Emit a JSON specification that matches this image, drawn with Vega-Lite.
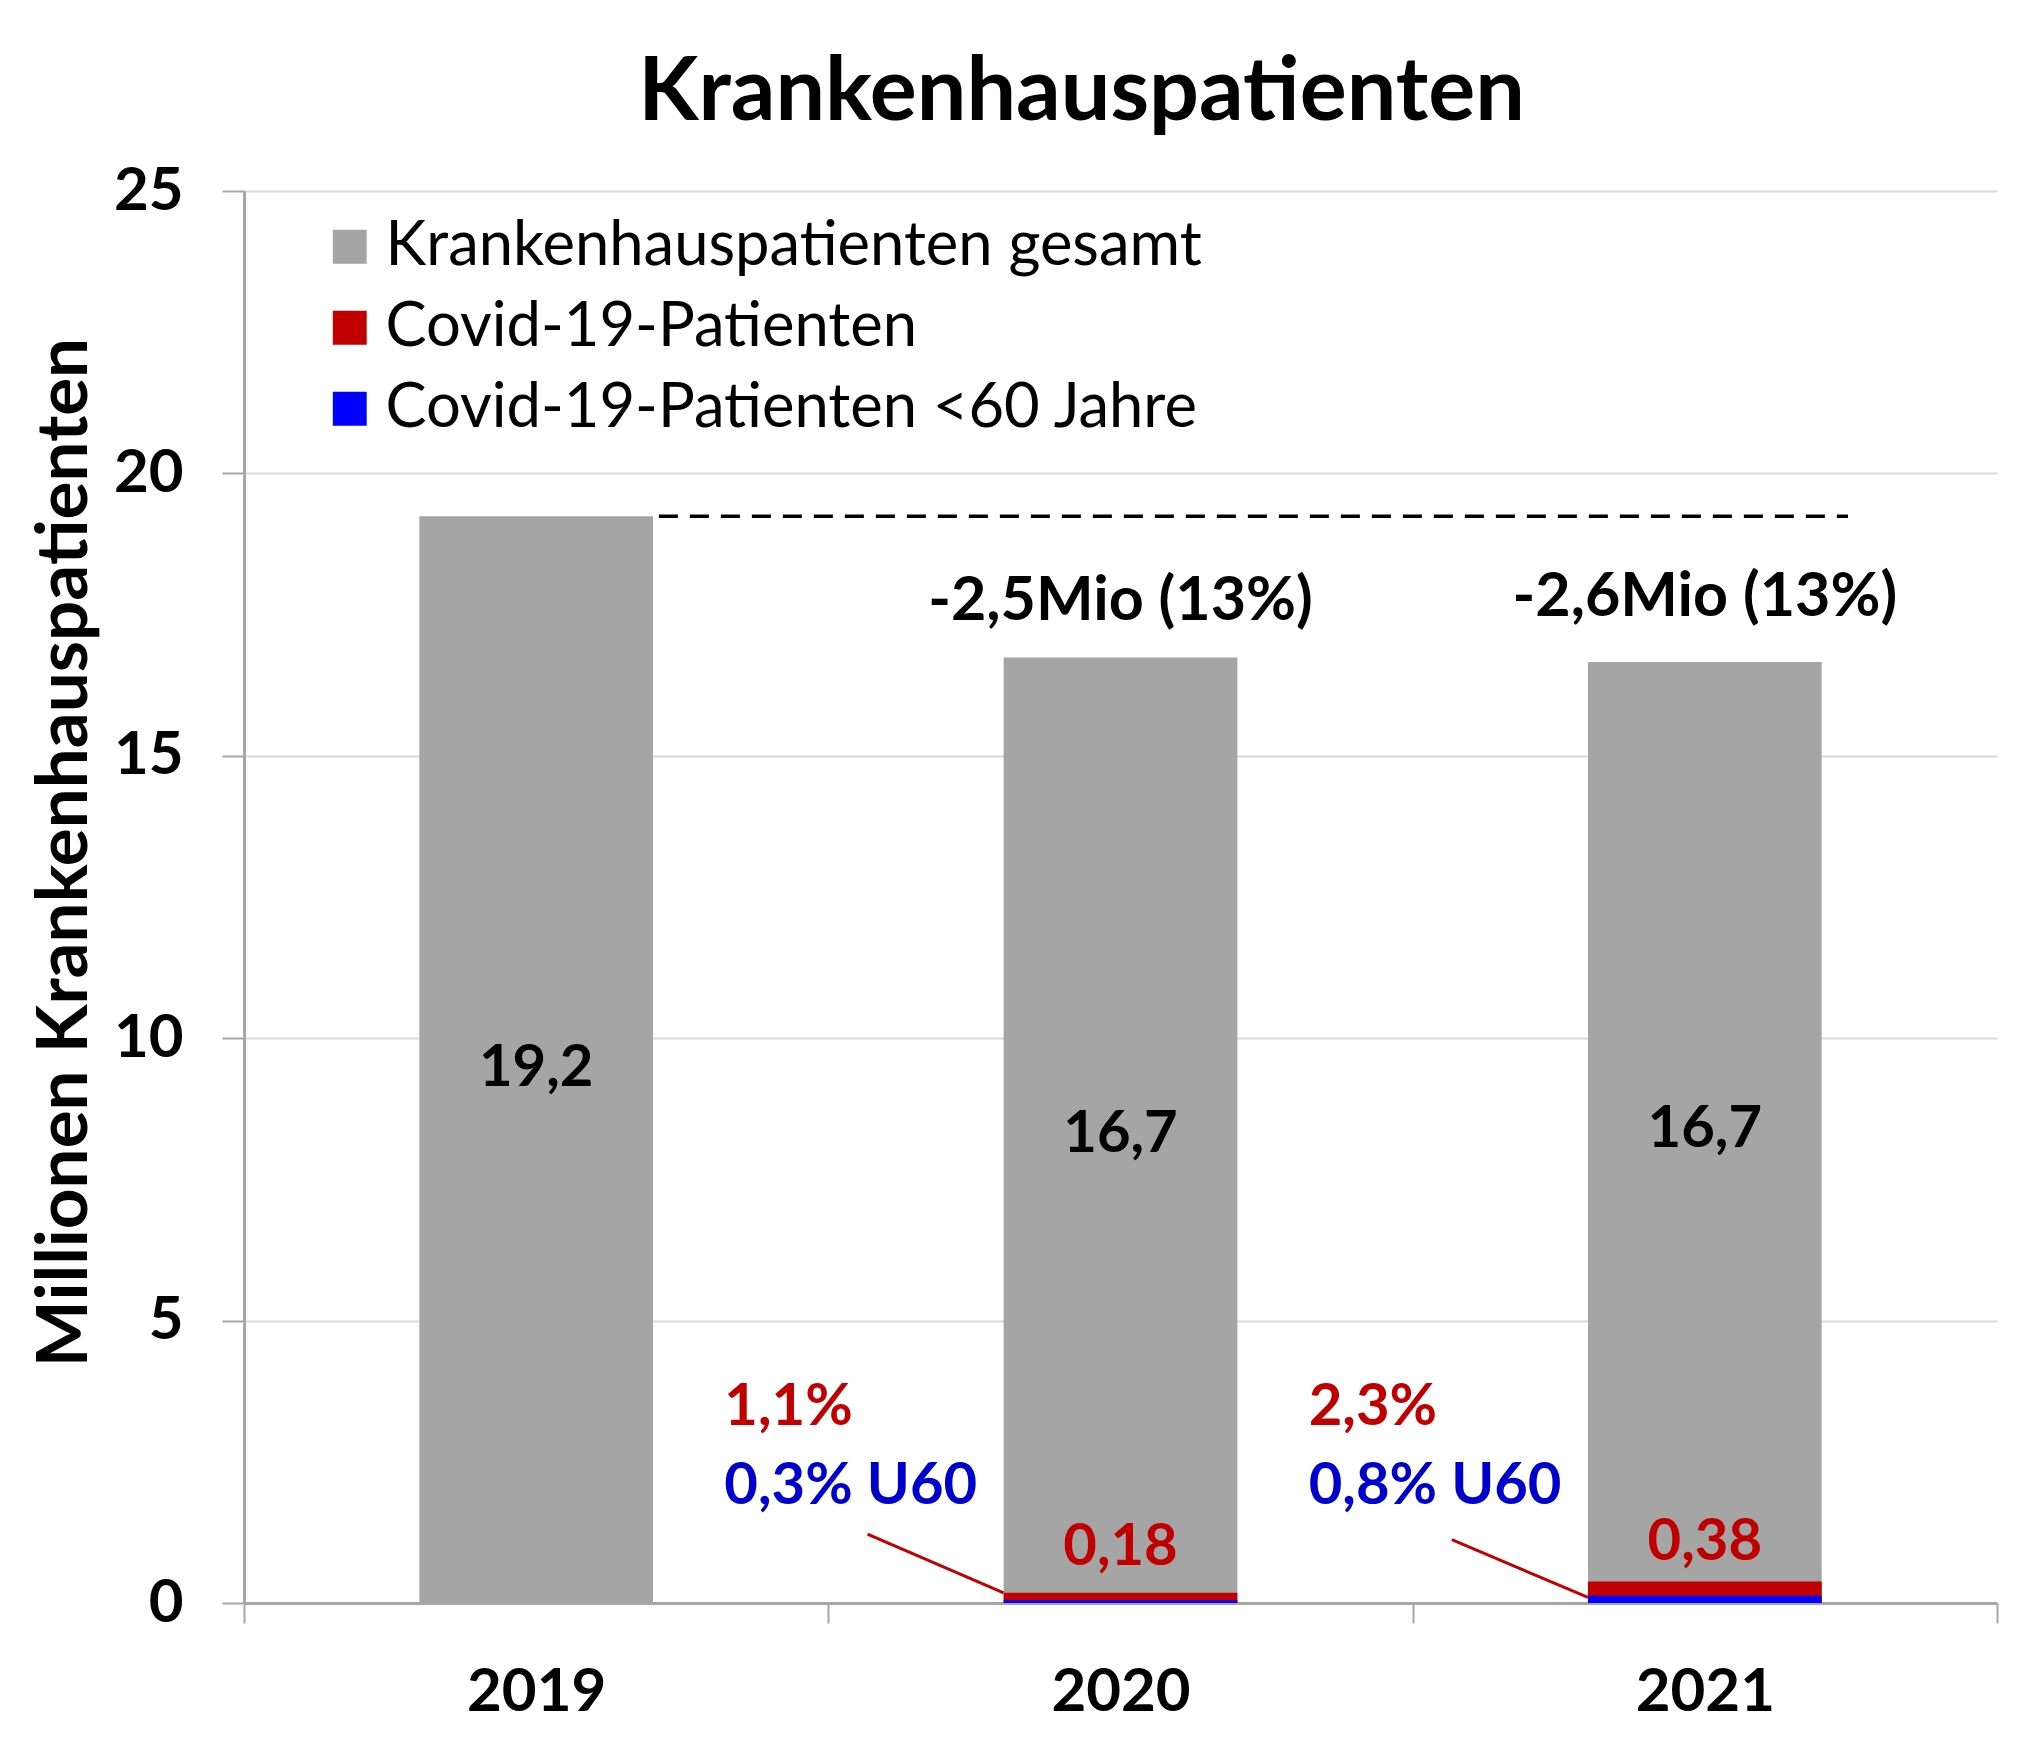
{
  "$schema": "https://vega.github.io/schema/vega-lite/v6.json",
  "autosize": {"type": "none"},
  "width": 1753,
  "height": 1412,
  "padding": {"left": 244, "top": 191, "right": 28, "bottom": 140},
  "background": "white",
  "config": {
    "font": "Lato",
    "view": {"stroke": null},
    "axis": {"labelColor": "black", "titleColor": "black"}
  },
  "title": {
    "text": "Krankenhauspatienten",
    "font": "Lato",
    "fontSize": 88,
    "fontWeight": "bold",
    "color": "black",
    "anchor": "middle",
    "dx": -39,
    "offset": -47,
    "baseline": "alphabetic"
  },
  "datasets": {
    "bars": [
      {"year": "2019", "series": "Krankenhauspatienten gesamt", "value": 19.24},
      {"year": "2020", "series": "Krankenhauspatienten gesamt", "value": 16.74},
      {"year": "2021", "series": "Krankenhauspatienten gesamt", "value": 16.66},
      {"year": "2020", "series": "Covid-19-Patienten", "value": 0.18},
      {"year": "2021", "series": "Covid-19-Patienten", "value": 0.38},
      {"year": "2020", "series": "Covid-19-Patienten <60 Jahre", "value": 0.05},
      {"year": "2021", "series": "Covid-19-Patienten <60 Jahre", "value": 0.13}
    ],
    "ref": [
      {"year": "2019", "year_end": "2021", "value": 19.24}
    ],
    "leaders": [
      {"year": "2020", "value": 1.22, "value_end": 0.18},
      {"year": "2021", "value": 1.12, "value_end": 0.1}
    ],
    "labels": [
      {"year": "2019", "value": 9.45, "text": "19,2", "group": "black"},
      {"year": "2020", "value": 8.28, "text": "16,7", "group": "black"},
      {"year": "2021", "value": 8.37, "text": "16,7", "group": "black"},
      {"year": "2020", "value": 17.73, "text": "-2,5Mio (13%)", "group": "diff"},
      {"year": "2021", "value": 17.79, "text": "-2,6Mio (13%)", "group": "diff"},
      {"year": "2020", "value": 0.98, "text": "0,18", "group": "redcenter"},
      {"year": "2021", "value": 1.07, "text": "0,38", "group": "redcenter"},
      {"year": "2020", "value": 3.46, "text": "1,1%", "group": "redside"},
      {"year": "2021", "value": 3.46, "text": "2,3%", "group": "redside"},
      {"year": "2020", "value": 2.06, "text": "0,3% U60", "group": "blueside"},
      {"year": "2021", "value": 2.06, "text": "0,8% U60", "group": "blueside"}
    ]
  },
  "layer": [
    {
      "data": {"name": "bars"},
      "mark": {"type": "bar", "width": {"band": 0.4}},
      "encoding": {
        "x": {
          "field": "year",
          "type": "nominal",
          "scale": {"domain": ["2019", "2020", "2021"], "paddingInner": 0, "paddingOuter": 0},
          "axis": {
            "title": null,
            "labelAngle": 0,
            "labelFont": "Lato",
            "labelFontSize": 60,
            "labelFontWeight": "bold",
            "labelPadding": 40,
            "tickBand": "extent",
            "ticks": true,
            "tickSize": 20,
            "tickWidth": 2,
            "tickColor": "#A6A6A6",
            "domain": true,
            "domainColor": "#A6A6A6",
            "domainWidth": 3,
            "grid": false
          }
        },
        "y": {
          "field": "value",
          "type": "quantitative",
          "stack": null,
          "scale": {"domain": [0, 25], "nice": false},
          "axis": {
            "title": "Millionen Krankenhauspatienten",
            "titleFont": "Lato",
            "titleFontSize": 71,
            "titleFontWeight": "bold",
            "titleX": -179,
            "titleY": 661,
            "titleAngle": -90,
            "titleAlign": "center",
            "titleBaseline": "middle",
            "values": [0, 5, 10, 15, 20, 25],
            "format": "d",
            "labelFont": "Lato",
            "labelFontSize": 60,
            "labelFontWeight": "bold",
            "labelPadding": 39,
            "ticks": true,
            "tickSize": 22,
            "tickWidth": 2,
            "tickColor": "#A6A6A6",
            "domain": true,
            "domainColor": "#A6A6A6",
            "domainWidth": 3,
            "grid": true,
            "gridColor": "#D9D9D9",
            "gridWidth": 2
          }
        },
        "color": {
          "field": "series",
          "type": "nominal",
          "scale": {
            "domain": ["Krankenhauspatienten gesamt", "Covid-19-Patienten", "Covid-19-Patienten <60 Jahre"],
            "range": ["#A5A5A5", "#C00000", "#0000FF"]
          },
          "legend": {
            "orient": "none",
            "legendX": 75,
            "legendY": 25,
            "title": null,
            "padding": 0,
            "symbolType": "square",
            "symbolSize": 1150,
            "symbolStrokeWidth": 0,
            "symbolOpacity": 1,
            "labelFont": "Lato",
            "labelFontSize": 61.5,
            "labelColor": "black",
            "labelOffset": 5,
            "labelLimit": 0,
            "rowPadding": 18
          }
        }
      }
    },
    {
      "data": {"name": "ref"},
      "mark": {"type": "rule", "color": "black", "strokeWidth": 3.5, "strokeDash": [19, 12]},
      "encoding": {
        "x": {"field": "year", "type": "nominal", "bandPosition": 0.71},
        "x2": {"field": "year_end", "bandPosition": 0.745},
        "y": {"field": "value", "type": "quantitative"}
      }
    },
    {
      "data": {"name": "leaders"},
      "mark": {"type": "rule", "color": "#C00000", "strokeWidth": 3},
      "encoding": {
        "x": {"field": "year", "type": "nominal", "bandPosition": 0.067},
        "x2": {"field": "year", "bandPosition": 0.3},
        "y": {"field": "value", "type": "quantitative"},
        "y2": {"field": "value_end"}
      }
    },
    {
      "data": {"name": "labels"},
      "transform": [{"filter": "datum.group === 'black'"}],
      "mark": {"type": "text", "font": "Lato", "fontSize": 58, "fontWeight": "bold", "color": "black", "align": "center", "baseline": "middle"},
      "encoding": {
        "x": {"field": "year", "type": "nominal"},
        "y": {"field": "value", "type": "quantitative"},
        "text": {"field": "text"}
      }
    },
    {
      "data": {"name": "labels"},
      "transform": [{"filter": "datum.group === 'diff'"}],
      "mark": {"type": "text", "font": "Lato", "fontSize": 61, "fontWeight": "bold", "color": "black", "align": "center", "baseline": "middle"},
      "encoding": {
        "x": {"field": "year", "type": "nominal"},
        "y": {"field": "value", "type": "quantitative"},
        "text": {"field": "text"}
      }
    },
    {
      "data": {"name": "labels"},
      "transform": [{"filter": "datum.group === 'redcenter'"}],
      "mark": {"type": "text", "font": "Lato", "fontSize": 58, "fontWeight": "bold", "color": "#C00000", "align": "center", "baseline": "middle"},
      "encoding": {
        "x": {"field": "year", "type": "nominal"},
        "y": {"field": "value", "type": "quantitative"},
        "text": {"field": "text"}
      }
    },
    {
      "data": {"name": "labels"},
      "transform": [{"filter": "datum.group === 'redside'"}],
      "mark": {"type": "text", "font": "Lato", "fontSize": 58, "fontWeight": "bold", "color": "#C00000", "align": "left", "baseline": "middle", "dx": -104},
      "encoding": {
        "x": {"field": "year", "type": "nominal", "bandPosition": 0},
        "y": {"field": "value", "type": "quantitative"},
        "text": {"field": "text"}
      }
    },
    {
      "data": {"name": "labels"},
      "transform": [{"filter": "datum.group === 'blueside'"}],
      "mark": {"type": "text", "font": "Lato", "fontSize": 58, "fontWeight": "bold", "color": "#0000CC", "align": "left", "baseline": "middle", "dx": -104},
      "encoding": {
        "x": {"field": "year", "type": "nominal", "bandPosition": 0},
        "y": {"field": "value", "type": "quantitative"},
        "text": {"field": "text"}
      }
    }
  ]
}
